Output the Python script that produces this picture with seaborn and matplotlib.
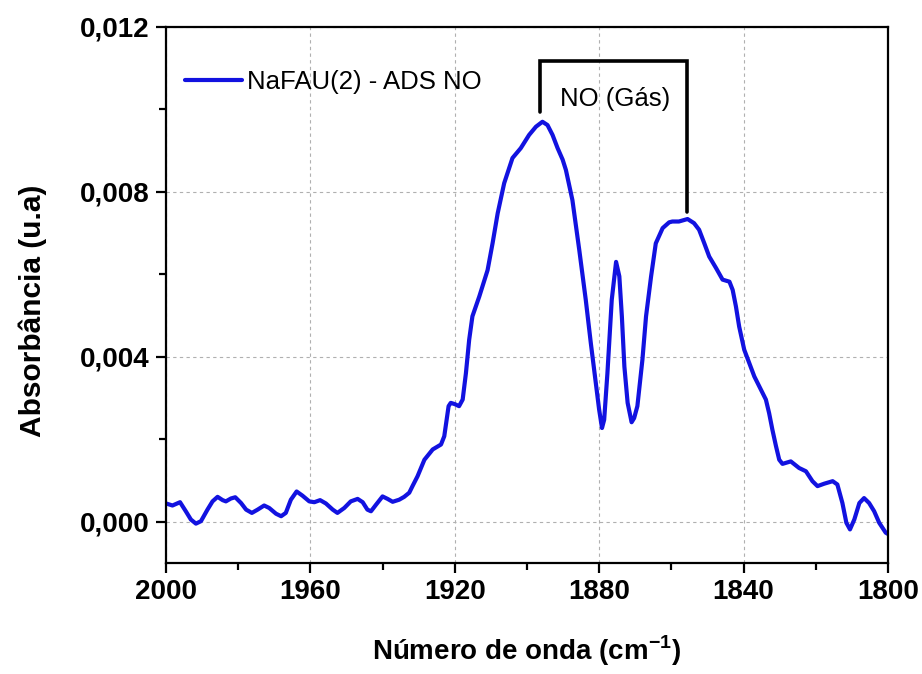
import matplotlib
matplotlib.use("Agg")
import matplotlib.pyplot as plt
import matplotlib.ticker as mticker
import seaborn as sns
import pandas as pd

# ---- data ----
wavenumber = [
    2000.0, 1998.2, 1996.1, 1994.5, 1993.1, 1991.7, 1990.3, 1988.5, 1987.1, 1985.7,
    1984.3, 1983.4, 1982.0, 1980.8, 1979.2, 1977.8, 1976.2, 1974.6, 1972.8, 1971.4,
    1969.5, 1968.1, 1966.8, 1965.4, 1963.8, 1962.2, 1960.3, 1958.9, 1957.3, 1955.7,
    1953.8, 1952.5, 1950.6, 1948.8, 1946.9, 1945.5, 1944.2, 1943.2, 1941.8, 1940.0,
    1938.6, 1937.2, 1935.4, 1934.0, 1932.6, 1931.7, 1930.3, 1928.4, 1926.1, 1923.8,
    1922.9, 1921.7, 1921.1, 1920.0, 1918.8, 1917.8, 1916.9, 1916.0, 1915.1, 1913.2,
    1910.9, 1909.5, 1908.1, 1906.3, 1904.0, 1901.7, 1899.4, 1897.5, 1895.7, 1894.3,
    1892.9, 1891.5, 1890.1, 1889.2, 1887.4, 1885.5, 1883.7, 1882.3, 1880.9, 1880.0,
    1879.2, 1878.6, 1877.7, 1876.5, 1875.3, 1874.4, 1873.7, 1873.0, 1872.1, 1871.0,
    1870.3, 1869.4, 1868.0, 1867.0, 1865.6, 1864.3, 1862.4, 1860.6, 1859.7, 1857.9,
    1855.5, 1853.7, 1852.3, 1850.9, 1849.5, 1847.6, 1845.8, 1843.9, 1843.0, 1842.1,
    1841.2, 1839.8, 1837.0, 1833.8, 1832.9, 1832.0, 1831.0, 1830.1, 1829.2, 1826.9,
    1824.6, 1822.7, 1820.9, 1819.5, 1817.6, 1815.3, 1814.0, 1812.6, 1811.5, 1810.5,
    1809.3, 1807.9, 1806.6, 1805.2, 1803.8, 1802.4, 1800.6, 1800.0,
]
absorbance = [
    0.00044, 0.00039, 0.00047, 0.00025, 0.00005, -0.00005, 0.00001, 0.00029, 0.00049, 0.00060,
    0.00052, 0.00049, 0.00056, 0.00059, 0.00045, 0.00029, 0.00021, 0.00029, 0.00039, 0.00033,
    0.00019, 0.00013, 0.00021, 0.00053, 0.00073, 0.00063, 0.00049, 0.00047, 0.00052, 0.00044,
    0.00029, 0.00021, 0.00033, 0.00049, 0.00055, 0.00047, 0.00029, 0.00025, 0.00041, 0.00061,
    0.00055, 0.00048, 0.00053, 0.00060, 0.00070, 0.00086, 0.00110, 0.00150, 0.00175, 0.00187,
    0.00207, 0.00280, 0.00288, 0.00285, 0.00280, 0.00296, 0.00360, 0.00441, 0.00498, 0.00546,
    0.00610, 0.00676, 0.00748, 0.00821, 0.00882, 0.00906, 0.00938, 0.00958, 0.00970, 0.00962,
    0.00938, 0.00906, 0.00878, 0.00853, 0.00780, 0.00659, 0.00538, 0.00433, 0.00336, 0.00272,
    0.00227, 0.00247, 0.00360, 0.00538, 0.00630, 0.00595, 0.00498, 0.00376, 0.00288, 0.00241,
    0.00251, 0.00280, 0.00393, 0.00498, 0.00595, 0.00675, 0.00712, 0.00726, 0.00728, 0.00728,
    0.00734, 0.00724, 0.00708, 0.00676, 0.00643, 0.00615, 0.00587, 0.00582, 0.00562, 0.00522,
    0.00473, 0.00417, 0.00352, 0.00296, 0.00263, 0.00223, 0.00183, 0.00150, 0.00140, 0.00146,
    0.00130, 0.00122, 0.00098, 0.00086, 0.00092, 0.00098, 0.00090, 0.00045, -0.00003, -0.00019,
    0.00005, 0.00045, 0.00057, 0.00045, 0.00025, -0.00003, -0.00027, -0.00030,
]
series_label = "NaFAU(2) - ADS NO"
x_ticks = [2000, 1960, 1920, 1880, 1840, 1800]
y_ticks = [0.000, 0.004, 0.008, 0.012]
annotation_text = "NO (Gás)"

df = pd.DataFrame({"wavenumber": wavenumber, "absorbance": absorbance})

sns.set_style("white")
plt.rcParams["font.family"] = ["Liberation Sans", "DejaVu Sans"]
plt.rcParams["mathtext.fontset"] = "custom"
plt.rcParams["mathtext.bf"] = "Liberation Sans:bold"
plt.rcParams["mathtext.rm"] = "Liberation Sans:bold"
for k in ["text.color", "axes.labelcolor", "xtick.color", "ytick.color"]:
    plt.rcParams[k] = "black"

fig = plt.figure(figsize=(9.22, 6.74), dpi=100)
ax = fig.add_axes([0.180, 0.165, 0.783, 0.795])

sns.lineplot(data=df, x="wavenumber", y="absorbance", ax=ax, color="#1212e0",
             linewidth=3.0, label=series_label, sort=False, estimator=None)
for ln in ax.get_lines():
    ln.set_solid_joinstyle("round")
    ln.set_solid_capstyle("round")

ax.set_xlim(2000, 1800)
ax.set_ylim(-0.001, 0.012)
ax.set_xticks(x_ticks)
ax.set_yticks(y_ticks)
ax.xaxis.set_minor_locator(mticker.MultipleLocator(20))
ax.yaxis.set_minor_locator(mticker.MultipleLocator(0.002))
ax.yaxis.set_major_formatter(mticker.FuncFormatter(lambda v, p: f"{v:.3f}".replace(".", ",")))
ax.xaxis.set_major_formatter(mticker.FuncFormatter(lambda v, p: f"{v:.0f}"))

ax.grid(True, which="major", linestyle=(0, (3, 3)), color="#b0b0b0", linewidth=0.8)
for s in ax.spines.values():
    s.set_color("black")
    s.set_linewidth(1.6)

ax.tick_params(axis="both", which="major", direction="out", length=7, width=1.6,
               labelsize=20, bottom=True, left=True, top=False, right=False, pad=5)
ax.tick_params(axis="both", which="minor", direction="out", length=5, width=1.6,
               bottom=True, left=True, top=False, right=False)
for lab in ax.get_xticklabels() + ax.get_yticklabels():
    lab.set_fontweight("bold")

ax.set_xlabel("Número de onda (cm$^{\\mathbf{-1}}$)", fontsize=20, fontweight="bold", labelpad=20)
ax.set_ylabel("Absorbância (u.a)", fontsize=21.5, fontweight="bold")
ax.yaxis.set_label_coords(-0.165, 0.47)

# bracket annotation for the NO gas band
ax.plot([1896.4, 1896.4, 1855.6, 1855.6], [0.00994, 0.01118, 0.01118, 0.00752],
        color="black", linewidth=2.6, solid_joinstyle="miter")
ax.text(1875.5, 0.01025, annotation_text, fontsize=18.5, ha="center", va="center")

leg = ax.legend(loc="center left", frameon=False, fontsize=18.5, handlelength=2.2,
                bbox_to_anchor=(-0.005, 0.897), handletextpad=0.2)

fig.savefig("out.png", dpi=100)
